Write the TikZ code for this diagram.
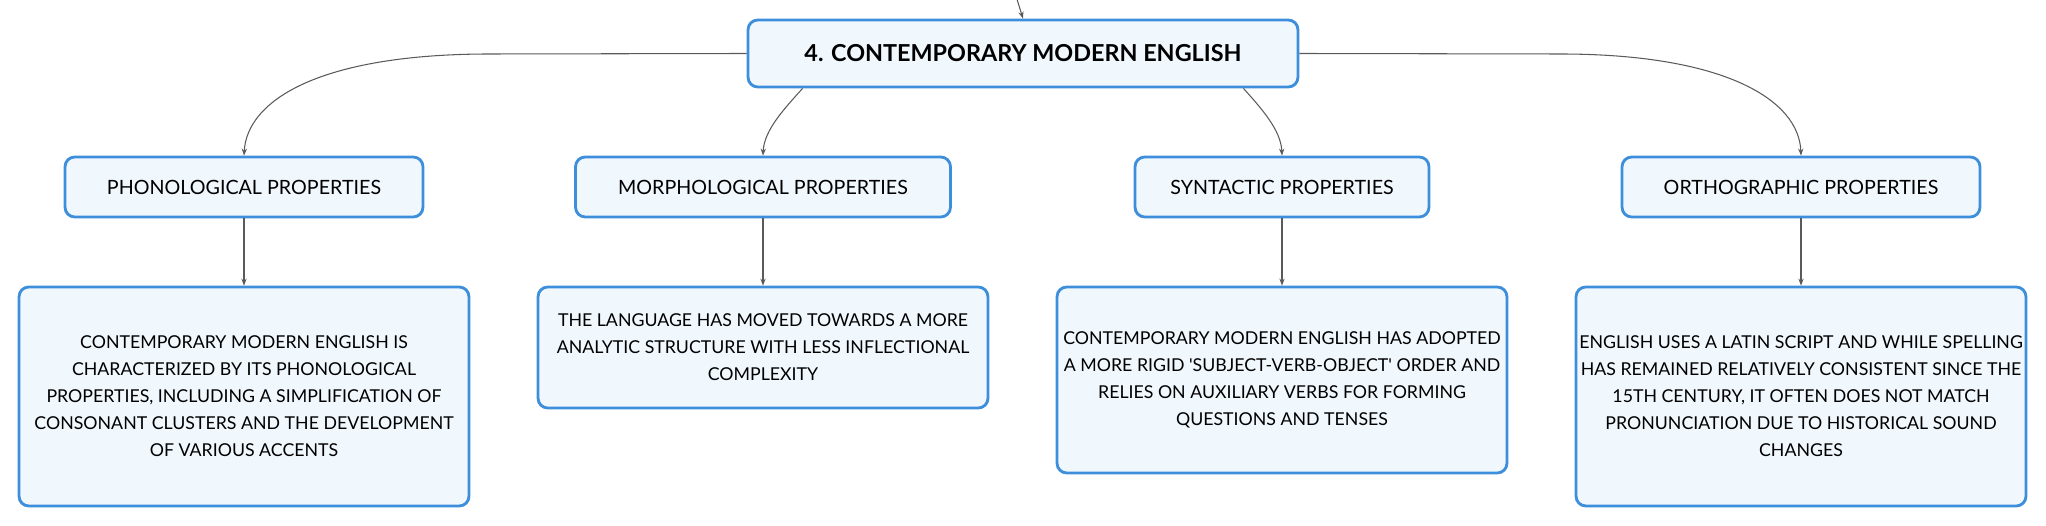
\documentclass[tikz,border=0pt]{standalone}
\usepackage{fontspec}
\setmainfont{Lato}
\usetikzlibrary{arrows.meta}
\definecolor{boxline}{HTML}{3D8EDB}
\definecolor{boxfill}{HTML}{F0F7FD}
\definecolor{linkgray}{HTML}{5A5A5A}
\begin{document}
\begin{tikzpicture}[x=0.02cm, y=-0.02cm,
    topicbox/.style={draw=boxline, fill=boxfill, line width=1.6pt, rounded corners=5.5pt, inner sep=0pt, align=center},
    propbox/.style={topicbox, minimum height=1.2cm, font=\fontsize{11.2}{14}\selectfont},
    descbox/.style={topicbox, minimum width=9cm, font=\fontsize{10.1}{15.4}\selectfont},
    link/.style={draw=linkgray, line width=0.6pt, -{Stealth[length=4pt,width=3pt]}}]
    \useasboundingbox (0,0) rectangle (2046,526);
    \node[topicbox, minimum width=11cm, minimum height=1.34cm, font=\fontsize{13.3}{16}\selectfont\bfseries] (title) at (1023,53.5) {4. CONTEMPORARY MODERN ENGLISH};
    \node[propbox, minimum width=7.16cm] (phon) at (244,187) {PHONOLOGICAL PROPERTIES};
    \node[propbox, minimum width=7.5cm] (morph) at (763,187) {MORPHOLOGICAL PROPERTIES};
    \node[propbox, minimum width=5.88cm] (synt) at (1282,187) {SYNTACTIC PROPERTIES};
    \node[propbox, minimum width=7.16cm] (orth) at (1801,187) {ORTHOGRAPHIC PROPERTIES};
    \node[descbox, minimum height=4.38cm] (phond) at (244,396.5) {CONTEMPORARY MODERN ENGLISH IS\\CHARACTERIZED BY ITS PHONOLOGICAL\\PROPERTIES, INCLUDING A SIMPLIFICATION OF\\CONSONANT CLUSTERS AND THE DEVELOPMENT\\OF VARIOUS ACCENTS};
    \node[descbox, minimum height=2.42cm] (morphd) at (763,347.5) {THE LANGUAGE HAS MOVED TOWARDS A MORE\\ANALYTIC STRUCTURE WITH LESS INFLECTIONAL\\COMPLEXITY};
    \node[descbox, minimum height=3.72cm] (syntd) at (1282,380) {CONTEMPORARY MODERN ENGLISH HAS ADOPTED\\A MORE RIGID \textquotesingle SUBJECT-VERB-OBJECT\textquotesingle\ ORDER AND\\RELIES ON AUXILIARY VERBS FOR FORMING\\QUESTIONS AND TENSES};
    \node[descbox, minimum height=4.38cm] (orthd) at (1801,396.5) {ENGLISH USES A LATIN SCRIPT AND WHILE SPELLING\\HAS REMAINED RELATIVELY CONSISTENT SINCE THE\\15TH CENTURY, IT OFTEN DOES NOT MATCH\\PRONUNCIATION DUE TO HISTORICAL SOUND\\CHANGES};
    \coordinate (root) at (1016,-4);
    \coordinate (lbend) at (490,54);
    \coordinate (rbend) at (1560,54);
    \draw[link] (root) .. controls (1019,6) .. (title.north);
    \draw[link] (title.west) -- (lbend) .. controls (320,54) and (247,100) .. (phon.north);
    \draw[link] (title.east) -- (rbend) .. controls (1725,54) and (1799,100) .. (orth.north);
    \draw[link] (title.189) .. controls (785,108) and (764,130) .. (morph.north);
    \draw[link] (title.351) .. controls (1261,108) and (1281,130) .. (synt.north);
    \draw[link] (phon) -- (phond);
    \draw[link] (morph) -- (morphd);
    \draw[link] (synt) -- (syntd);
    \draw[link] (orth) -- (orthd);
\end{tikzpicture}
\end{document}
